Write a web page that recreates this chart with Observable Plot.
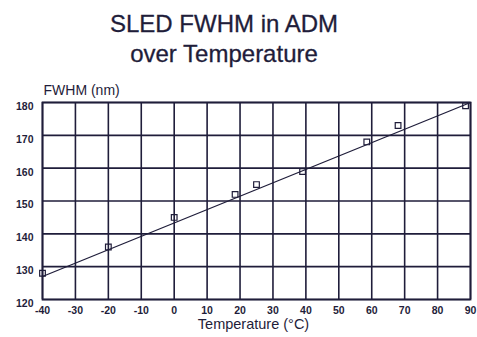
<!DOCTYPE html>
<html>
<head>
<meta charset="utf-8">
<script src="https://cdn.jsdelivr.net/npm/d3@7"></script>
<script src="https://cdn.jsdelivr.net/npm/@observablehq/plot@0.6"></script>
<style>
  html, body { margin: 0; padding: 0; background: #fff; width: 477px; height: 337px; overflow: hidden; }
  #wrap { position: relative; width: 477px; height: 337px; font-family: "Liberation Sans", Arial, sans-serif; color: #1f1d3a; }
  .t { position: absolute; left: 0; width: 448px; text-align: center; font-size: 24px; line-height: 24px; white-space: nowrap; -webkit-text-stroke: 0.3px #1f1d3a; }
  #chart { position: absolute; left: 0; top: 72px; }
</style>
</head>
<body>
<div id="wrap">
  <div class="t" style="top:12px">SLED FWHM in ADM</div>
  <div class="t" style="top:42px">over Temperature</div>
  <div id="chart"></div>
</div>
<script>
// Measured points (temperature °C, FWHM nm)
const temps = [-40, -20, 0, 18.5, 25, 39, 58.5, 68, 88.5];
const fwhm  = [128, 136, 145, 152, 155, 159, 168, 173, 179];
// Fit line endpoints
const fitTemps = [-40, 90];
const fitFwhm  = [127, 180];
// Axis ticks
const xTicks = [-40, -30, -20, -10, 0, 10, 20, 30, 40, 50, 60, 70, 80, 90];
const yTicks = [120, 130, 140, 150, 160, 170, 180];
const yLabel = "FWHM (nm)";
const xLabel = "Temperature (°C)";

const points = temps.map((t, i) => ({t, v: fwhm[i]}));
const fit = fitTemps.map((t, i) => ({t, v: fitFwhm[i]}));
const ink = "#1f1d3a";

const chart = Plot.plot({
  width: 477,
  height: 265,
  marginLeft: 42,
  marginRight: 7,
  marginTop: 30,
  marginBottom: 38,
  style: {fontFamily: "'Liberation Sans', Arial, sans-serif", color: ink, background: "#fff"},
  x: {domain: [-40, 90], label: null},
  y: {domain: [120, 180], label: null},
  marks: [
    Plot.gridX(xTicks, {stroke: ink, strokeOpacity: 1, strokeWidth: 1.6}),
    Plot.gridY(yTicks, {stroke: ink, strokeOpacity: 1, strokeWidth: 1.6}),
    Plot.frame({stroke: ink, strokeWidth: 1.8}),
    Plot.line(fit, {x: "t", y: "v", stroke: ink, strokeWidth: 1.3}),
    Plot.dot(points, {x: "t", y: "v", symbol: "square", r: 3.2, stroke: ink, strokeWidth: 1.2, fill: "none"}),
    Plot.axisX(xTicks, {tickSize: 0, tickPadding: 7, fontSize: 10.5, fontWeight: "bold", fill: ink,
      tickFormat: d => String(d)}),
    Plot.axisY(yTicks, {tickSize: 0, tickPadding: 9, fontSize: 10.5, fontWeight: "bold", fill: ink, dy: 4,
      tickFormat: d => String(d)}),
    Plot.text([yLabel], {frameAnchor: "top-left", text: d => d, dy: -17, dx: 1, textAnchor: "start",
      fontSize: 14, fill: ink}),
    Plot.text([xLabel], {frameAnchor: "bottom", text: d => d, dy: 29, dx: -3, fontSize: 14.5, fill: ink})
  ]
});
document.getElementById("chart").appendChild(chart);
</script>
</body>
</html>
